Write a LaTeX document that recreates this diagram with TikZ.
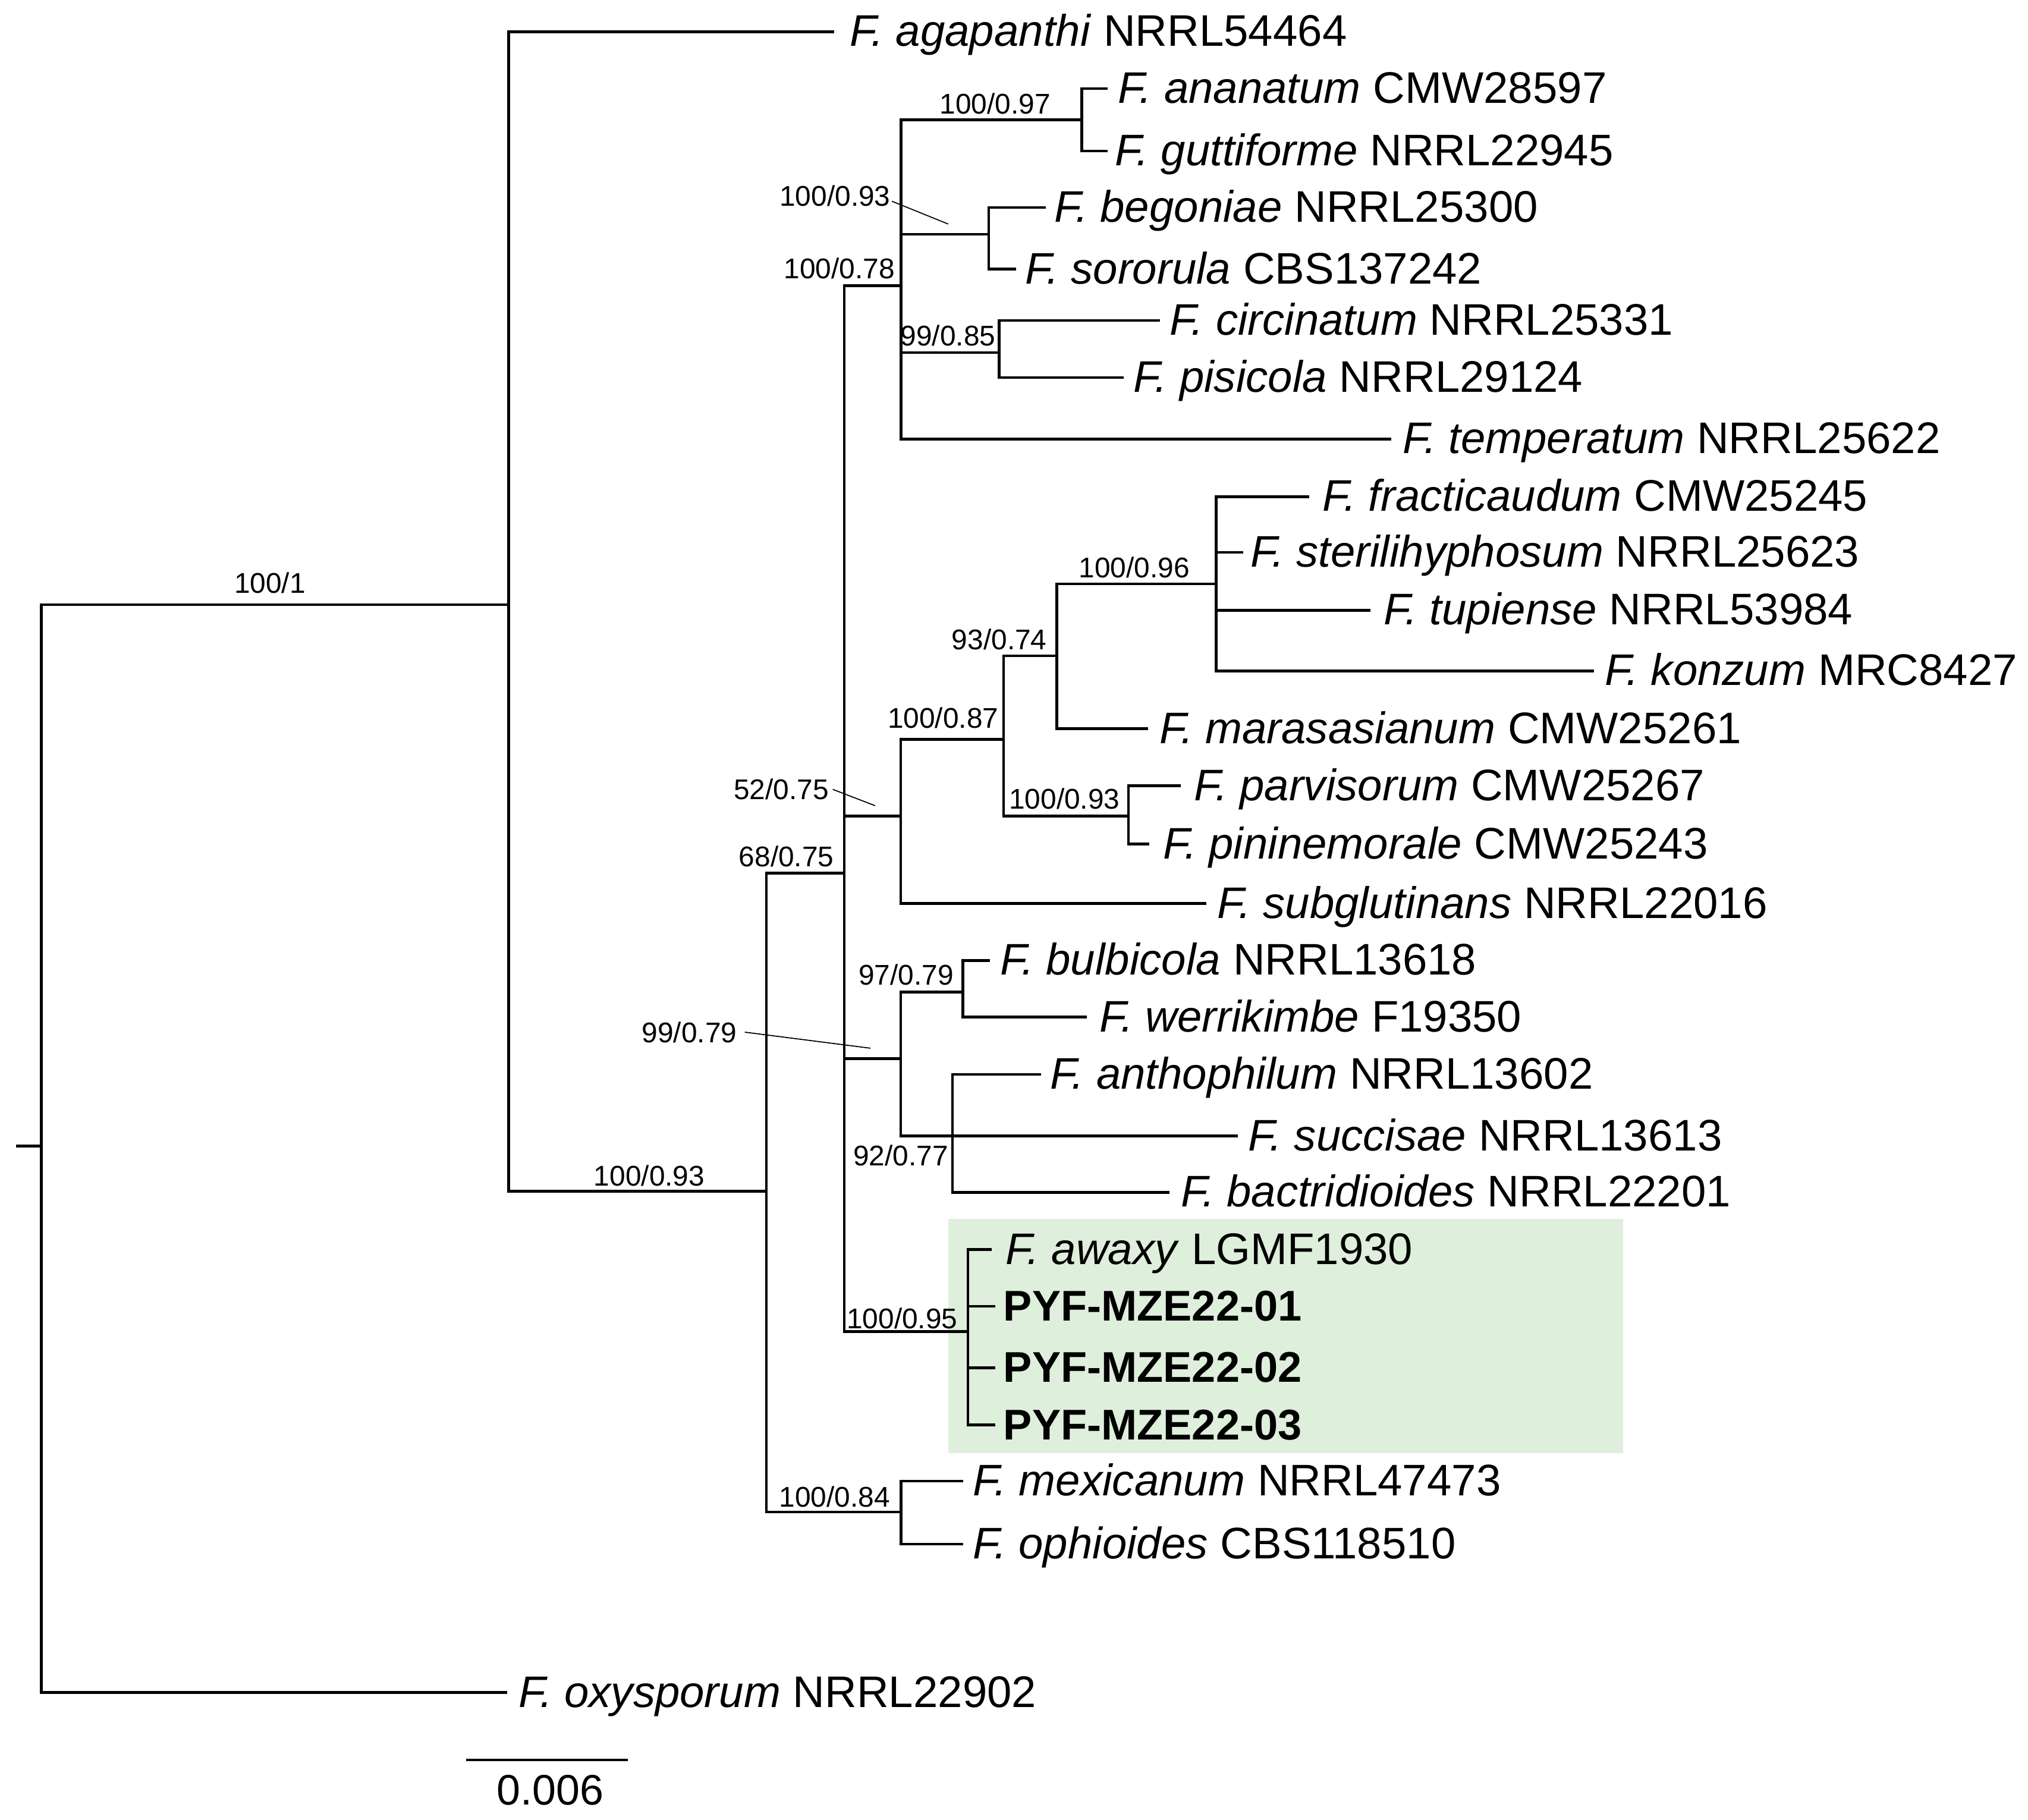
\documentclass[tikz,border=0pt]{standalone}
\usepackage{fontspec}
\setmainfont{Liberation Sans}
\definecolor{boxgreen}{RGB}{222,239,219}
\newcommand\mytaxon[5]{\coordinate (t#1) at (#3,#2);
  \node[taxon] (n#1) at (#4-1,#2+11.3) {#5};}
\newcommand\mystrain[1]{{\fontsize{33.2}{40}\selectfont\bfseries #1}}
\begin{document}
\begin{tikzpicture}[x=1pt,y=-1pt,
  branch/.style={line width=2.1pt},
  leader/.style={line width=0.8pt},
  taxon/.style={anchor=base west,inner sep=0pt,font=\fontsize{34.2}{40}\selectfont},
  bs/.style={anchor=center,inner sep=0pt,font=\fontsize{22}{26}\selectfont}]
\useasboundingbox (0,0) rectangle (1568,1407);
% highlight box
\fill[boxgreen] (733.4,942.4) rectangle (1255,1123.5);
% internal nodes
\coordinate (root) at (12.3,886);
\coordinate (R) at (32,886);
\coordinate (A) at (393.3,467.5);
\coordinate (B) at (592.6,921);
\coordinate (C) at (652.7,675);
\coordinate (D) at (696.7,221);
\coordinate (E) at (836.5,92.5);
\coordinate (F) at (764.4,181.2);
\coordinate (G) at (772.5,272.5);
\coordinate (H) at (696.5,631);
\coordinate (I) at (776,571.5);
\coordinate (J) at (817,507);
\coordinate (K) at (940.3,451.5);
\coordinate (L) at (872.5,631);
\coordinate (M) at (696.5,818.5);
\coordinate (N) at (744.5,767);
\coordinate (O) at (736.4,878.3);
\coordinate (P) at (748.3,1029.5);
\coordinate (Q) at (696.6,1169);
% taxa
\mytaxon{aga}{24.5}{645}{658}{\textit{F. agapanthi} NRRL54464}
\mytaxon{ana}{68.4}{856.4}{865.4}{\textit{F. ananatum} CMW28597}
\mytaxon{gut}{116.8}{856.4}{863}{\textit{F. guttiforme} NRRL22945}
\mytaxon{beg}{160.4}{808.7}{816}{\textit{F. begoniae} NRRL25300}
\mytaxon{sor}{208}{785.5}{793.5}{\textit{F. sororula} CBS137242}
\mytaxon{cir}{247.7}{896.7}{905.4}{\textit{F. circinatum} NRRL25331}
\mytaxon{pis}{291.9}{868.7}{877.4}{\textit{F. pisicola} NRRL29124}
\mytaxon{tem}{339.4}{1075.7}{1085.4}{\textit{F. temperatum} NRRL25622}
\mytaxon{fra}{384}{1012}{1023.5}{\textit{F. fracticaudum} CMW25245}
\mytaxon{ste}{427}{961}{967.6}{\textit{F. sterilihyphosum} NRRL25623}
\mytaxon{tup}{471.8}{1059.6}{1070.8}{\textit{F. tupiense} NRRL53984}
\mytaxon{kon}{518.7}{1232.2}{1241.8}{\textit{F. konzum} MRC8427}
\mytaxon{mar}{563.4}{887.7}{897.3}{\textit{F. marasasianum} CMW25261}
\mytaxon{par}{607.5}{912.8}{924}{\textit{F. parvisorum} CMW25267}
\mytaxon{pin}{652.5}{888.7}{900}{\textit{F. pininemorale} CMW25243}
\mytaxon{sub}{698.5}{932.8}{942}{\textit{F. subglutinans} NRRL22016}
\mytaxon{bul}{742.5}{765.5}{774.2}{\textit{F. bulbicola} NRRL13618}
\mytaxon{wer}{786.4}{840.3}{851}{\textit{F. werrikimbe} F19350}
\mytaxon{ant}{830.6}{804.8}{813}{\textit{F. anthophilum} NRRL13602}
\mytaxon{suc}{878.3}{957}{966}{\textit{F. succisae} NRRL13613}
\mytaxon{bac}{921.8}{904.1}{913.8}{\textit{F. bactridioides} NRRL22201}
\mytaxon{awa}{966.1}{766.8}{778.4}{\textit{F. awaxy} LGMF1930}
\mytaxon{pyA}{1010}{769.3}{776.7}{\mystrain{PYF-MZE22-01}}
\mytaxon{pyB}{1057.4}{769.3}{776.7}{\mystrain{PYF-MZE22-02}}
\mytaxon{pyC}{1101.6}{769.3}{776.7}{\mystrain{PYF-MZE22-03}}
\mytaxon{mex}{1145}{744.5}{753.2}{\textit{F. mexicanum} NRRL47473}
\mytaxon{oph}{1193.8}{744.5}{753}{\textit{F. ophioides} CBS118510}
\mytaxon{oxy}{1308.5}{392.3}{401.7}{\textit{F. oxysporum} NRRL22902}
% branches
\draw[branch] (root) -- (R);
\draw[branch] (R) |- (A);
\draw[branch] (R) |- (toxy);
\draw[branch] (A) |- (taga);
\draw[branch] (A) |- (B);
\draw[branch] (B) |- (C);
\draw[branch] (B) |- (Q);
\draw[branch] (C) |- (D);
\draw[branch] (C) |- (H);
\draw[branch] (C) |- (M);
\draw[branch] (C) |- (P);
\draw[branch] (D) |- (E);
\draw[branch] (D) |- (F);
\draw[branch] (D) |- (G);
\draw[branch] (D) |- (ttem);
\draw[branch] (E) |- (tana);
\draw[branch] (E) |- (tgut);
\draw[branch] (F) |- (tbeg);
\draw[branch] (F) |- (tsor);
\draw[branch] (G) |- (tcir);
\draw[branch] (G) |- (tpis);
\draw[branch] (H) |- (I);
\draw[branch] (H) |- (tsub);
\draw[branch] (I) |- (J);
\draw[branch] (I) |- (L);
\draw[branch] (J) |- (K);
\draw[branch] (J) |- (tmar);
\draw[branch] (K) |- (tfra);
\draw[branch] (K) |- (tste);
\draw[branch] (K) |- (ttup);
\draw[branch] (K) |- (tkon);
\draw[branch] (L) |- (tpar);
\draw[branch] (L) |- (tpin);
\draw[branch] (M) |- (N);
\draw[branch] (M) |- (O);
\draw[branch] (N) |- (tbul);
\draw[branch] (N) |- (twer);
\draw[branch] (O) |- (tant);
\draw[branch] (O) |- (tsuc);
\draw[branch] (O) |- (tbac);
\draw[branch] (P) |- (tawa);
\draw[branch] (P) |- (tpyA);
\draw[branch] (P) |- (tpyB);
\draw[branch] (P) |- (tpyC);
\draw[branch] (Q) |- (tmex);
\draw[branch] (Q) |- (toph);
% support values
\node[bs] (sR) at (208.7,450.7) {100/1};
\node[bs] (sB) at (502,909) {100/0.93};
\node[bs] (sC) at (608,662) {68/0.75};
\node[bs] (sD) at (649,207.4) {100/0.78};
\node[bs] (sE) at (769.3,80) {100/0.97};
\node[bs] (sF) at (645.6,151.6) {100/0.93};
\node[bs] (sG) at (733,259.6) {99/0.85};
\node[bs] (sH) at (604,610.3) {52/0.75};
\node[bs] (sI) at (729.2,554.8) {100/0.87};
\node[bs] (sJ) at (772.6,494.5) {93/0.74};
\node[bs] (sK) at (876.9,438.6) {100/0.96};
\node[bs] (sL) at (823,617.7) {100/0.93};
\node[bs] (sM) at (533,798) {99/0.79};
\node[bs] (sN) at (700.6,753.8) {97/0.79};
\node[bs] (sO) at (696.5,893.5) {92/0.77};
\node[bs] (sP) at (697.5,1019.5) {100/0.95};
\node[bs] (sQ) at (645.3,1157.1) {100/0.84};
% leader lines
\coordinate (lF) at (733.1,173.2);
\coordinate (lH) at (676.6,622.9);
\coordinate (lM) at (673,810.4);
\draw[leader] ([xshift=1pt,yshift=-4pt]sF.east) -- (lF);
\draw[leader] ([xshift=3pt]sH.east) -- (lH);
\draw[leader] ([xshift=6pt]sM.east) -- (lM);
% scale bar
\coordinate (sb1) at (360.3,1360.7);
\coordinate (sb2) at (485.6,1360.7);
\draw[branch] (sb1) -- (sb2);
\node[anchor=center,inner sep=0pt,font=\fontsize{33}{40}\selectfont] (scale) at (425.3,1384) {0.006};
\end{tikzpicture}
\end{document}
